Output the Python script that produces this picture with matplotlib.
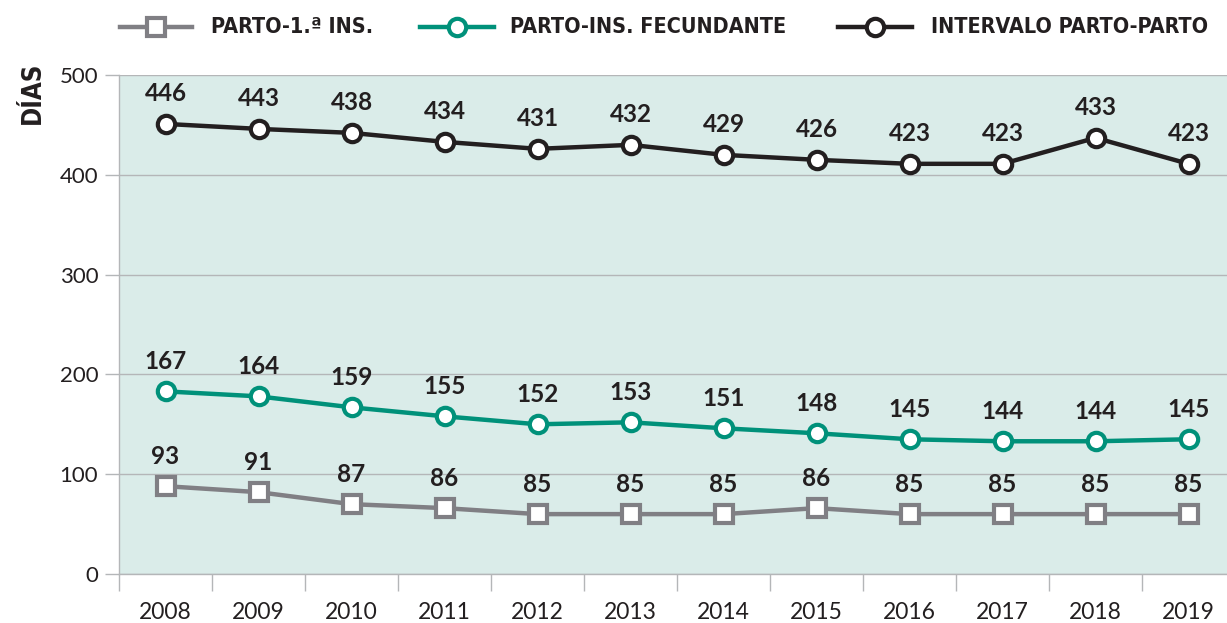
import numpy as np
import matplotlib.pyplot as plt
from matplotlib.lines import Line2D

anios = ['2008', '2009', '2010', '2011', '2012', '2013', '2014', '2015', '2016', '2017', '2018', '2019']

# etiquetas que pone el grafico
parto_ins_lbl = [93, 91, 87, 86, 85, 85, 85, 86, 85, 85, 85, 85]
parto_fec_lbl = [167, 164, 159, 155, 152, 153, 151, 148, 145, 144, 144, 145]
parto_parto_lbl = [446, 443, 438, 434, 431, 432, 429, 426, 423, 423, 433, 423]

# donde estan dibujados los puntos (no coincide con la etiqueta)
parto_ins_pos = [88, 82, 70, 66, 60, 60, 60, 66, 60, 60, 60, 60]
parto_fec_pos = [183, 178, 167, 158, 150, 152, 146, 141, 135, 133, 133, 135]
parto_parto_pos = [451, 446, 442, 433, 426, 430, 420, 415, 411, 411, 437, 411]

gris = '#807f84'
verde = '#00917a'
negro = '#231f20'
fondo = '#daece9'
rejilla = '#b4b6b8'

W, H = 1227, 623
fig = plt.figure(figsize=(W / 100, H / 100), dpi=100)
ax = fig.add_axes([119 / W, (H - 574) / H, 1116 / W, (574 - 75) / H])
ax.set_facecolor(fondo)

x = np.arange(len(anios))
series = [
    (parto_ins_pos, parto_ins_lbl, gris, 's', 13),
    (parto_fec_pos, parto_fec_lbl, verde, 'o', 12.5),
    (parto_parto_pos, parto_parto_lbl, negro, 'o', 12.5),
]
for pos, lbl, col, mk, ms in series:
    ax.plot(x, pos, color=col, lw=3.2, marker=mk, ms=ms, mfc='white', mec=col, mew=3, zorder=3, clip_on=False)
    for xi, yi, t in zip(x, pos, lbl):
        ax.annotate(str(t), (xi, yi), xytext=(0, 30), textcoords='offset pixels', ha='center', va='center',
                    fontsize=17.5, fontweight='bold', color=negro, family=['Lato', 'DejaVu Sans'])

ax.set_xlim(-0.5, 11.5)
ax.set_ylim(0, 500)
ax.set_yticks([0, 100, 200, 300, 400, 500])
ax.yaxis.grid(True, color=rejilla, lw=1)
ax.set_axisbelow(True)
ax.tick_params(axis='y', length=10, width=1, color=rejilla, pad=5, labelsize=16, labelcolor=negro)
ax.set_xticks(x)
ax.set_xticklabels(anios)
ax.set_xticks(np.arange(-0.5, 12, 1), minor=True)
ax.tick_params(axis='x', which='major', length=0, pad=20, labelsize=16.5, labelcolor=negro)
ax.tick_params(axis='x', which='minor', length=12, width=1, color=rejilla)
for lab in ax.get_xticklabels() + ax.get_yticklabels():
    lab.set_family(['Lato', 'DejaVu Sans'])
for s in ['top', 'right']:
    ax.spines[s].set_visible(False)
for s in ['left', 'bottom']:
    ax.spines[s].set_color(rejilla)
    ax.spines[s].set_linewidth(1)

fig.text(33 / W, 1 - 93 / H, 'DÍAS', rotation=90, ha='center', va='center', fontsize=18.5,
         fontweight='bold', color=negro, family=['DejaVu Sans'], fontstretch='condensed')

# leyenda
ley = [
    (120, 192, 211, 'PARTO-1.ª INS.', gris, 's', 13),
    (420, 494, 510, 'PARTO-INS. FECUNDANTE', verde, 'o', 12.5),
    (838, 912, 931, 'INTERVALO PARTO-PARTO', negro, 'o', 12.5),
]
yl = 1 - 27 / H
for x0, x1, xt, txt, col, mk, ms in ley:
    fig.add_artist(Line2D([x0 / W, x1 / W], [yl, yl], color=col, lw=3.2))
    fig.add_artist(Line2D([(x0 + x1) / 2 / W], [yl], color=col, marker=mk, ms=ms, mfc='white', mec=col, mew=3))
    fig.text(xt / W, yl, txt, ha='left', va='center', fontsize=15.5, fontweight='bold', color=negro,
             family=['DejaVu Sans'], fontstretch='condensed')

fig.savefig('out.png', dpi=100)
